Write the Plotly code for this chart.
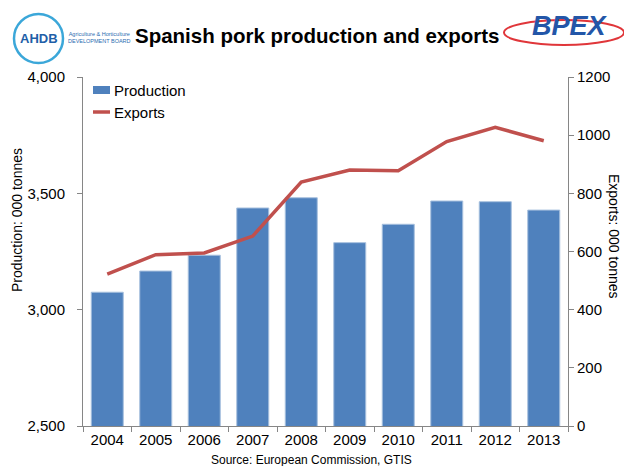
import plotly.graph_objects as go

years = ["2004", "2005", "2006", "2007", "2008", "2009", "2010", "2011", "2012", "2013"]
production = [3075, 3166, 3234, 3437, 3481, 3288, 3367, 3467, 3464, 3428]
exports = [522, 589, 595, 653, 839, 880, 878, 978, 1027, 981]
left_ticks = [2500, 3000, 3500, 4000]
left_labels = ["2,500", "3,000", "3,500", "4,000"]
right_ticks = [0, 200, 400, 600, 800, 1000, 1200]

FONT = "Liberation Sans, Arial, sans-serif"
BAR_COLOR = "#4F81BD"
LINE_COLOR = "#C0504D"
L, R, T, B, W, H = 83, 56, 77, 40, 624, 466

def px(xp, yp):
    return (xp - L) / (W - L - R), 1 - (yp - T) / (H - T - B)

fig = go.Figure()
fig.add_trace(go.Bar(
    x=years, y=production, name="Production",
    marker=dict(color=BAR_COLOR, line=dict(color="#A7C0DE", width=1)),
    yaxis="y",
))
fig.add_trace(go.Scatter(
    x=years, y=exports, name="Exports", mode="lines",
    line=dict(color=LINE_COLOR, width=3.5),
    yaxis="y2",
))

fig.update_layout(
    width=W, height=H,
    margin=dict(l=L, r=R, t=T, b=B),
    paper_bgcolor="white", plot_bgcolor="white",
    font=dict(family=FONT, size=15, color="#000000"),
    bargap=0.34,
    showlegend=False,
    xaxis=dict(
        type="category", showline=True, linecolor="#868686", linewidth=1,
        ticks="outside", tickson="boundaries", ticklen=5, tickcolor="#868686",
        showgrid=False, tickfont=dict(size=15, family=FONT),
    ),
    yaxis=dict(
        range=[2500, 4000], tickvals=left_ticks, ticktext=left_labels,
        showline=True, linecolor="#868686", linewidth=1,
        ticks="outside", ticklen=5, tickcolor="#868686", ticklabelstandoff=9,
        showgrid=False, zeroline=False, tickfont=dict(size=15, family=FONT),
    ),
    yaxis2=dict(
        range=[0, 1200], tickvals=right_ticks, overlaying="y", side="right",
        showline=True, linecolor="#868686", linewidth=1,
        ticks="outside", ticklen=5, tickcolor="#868686",
        showgrid=False, zeroline=False, tickfont=dict(size=15, family=FONT),
    ),
)

annotations = [
    dict(text="<b>Spanish pork production and exports</b>", x=317, y=35,
         font=dict(size=20.5, family=FONT)),
    dict(text="Production: 000 tonnes", x=17, y=220, textangle=-90,
         font=dict(size=14, family=FONT)),
    dict(text="Exports: 000 tonnes", x=614, y=236, textangle=90,
         font=dict(size=14, family=FONT)),
    dict(text="Source: European Commission, GTIS", x=311, y=460,
         font=dict(size=12, family=FONT)),
    dict(text="<b>AHDB</b>", x=39, y=38, font=dict(size=13, family=FONT, color="#1F5FA8")),
    dict(text="Agriculture &amp; Horticulture<br>DEVELOPMENT BOARD", x=99, y=37,
         font=dict(size=5.5, family=FONT, color="#2B6CB0")),
    dict(text="<b><i>BPEX</i></b>", x=570, y=26, font=dict(size=27, family=FONT, color="#2356A8")),
    dict(text="Production", x=112, y=90, xanchor="left", font=dict(size=15, family=FONT)),
    dict(text="Exports", x=112, y=112, xanchor="left", font=dict(size=15, family=FONT)),
]
for a in annotations:
    a.setdefault("xanchor", "center")
    a.update(xref="paper", yref="paper", showarrow=False, yanchor="middle")
    a["x"], a["y"] = px(a["x"], a["y"])
fig.update_layout(annotations=annotations)

shapes = []
x0, y0 = px(14, 14); x1, y1 = px(63, 63)
shapes.append(dict(type="circle", x0=x0, y0=y0, x1=x1, y1=y1,
                   line=dict(color="#3BA7D9", width=2.5)))
x0, y0 = px(504, 20); x1, y1 = px(624, 45)
shapes.append(dict(type="circle", x0=x0, y0=y0, x1=x1, y1=y1,
                   line=dict(color="#E0363A", width=2), layer="below"))
# legend keys
x0, y0 = px(93, 86); x1, y1 = px(110, 94)
shapes.append(dict(type="rect", x0=x0, y0=y0, x1=x1, y1=y1,
                   fillcolor=BAR_COLOR, line=dict(width=0)))
x0, y0 = px(93, 112); x1, y1 = px(110, 112)
shapes.append(dict(type="line", x0=x0, y0=y0, x1=x1, y1=y1,
                   line=dict(color=LINE_COLOR, width=3.5)))
for s in shapes:
    s.update(xref="paper", yref="paper")
fig.update_layout(shapes=shapes)

fig.write_html("out.html")
